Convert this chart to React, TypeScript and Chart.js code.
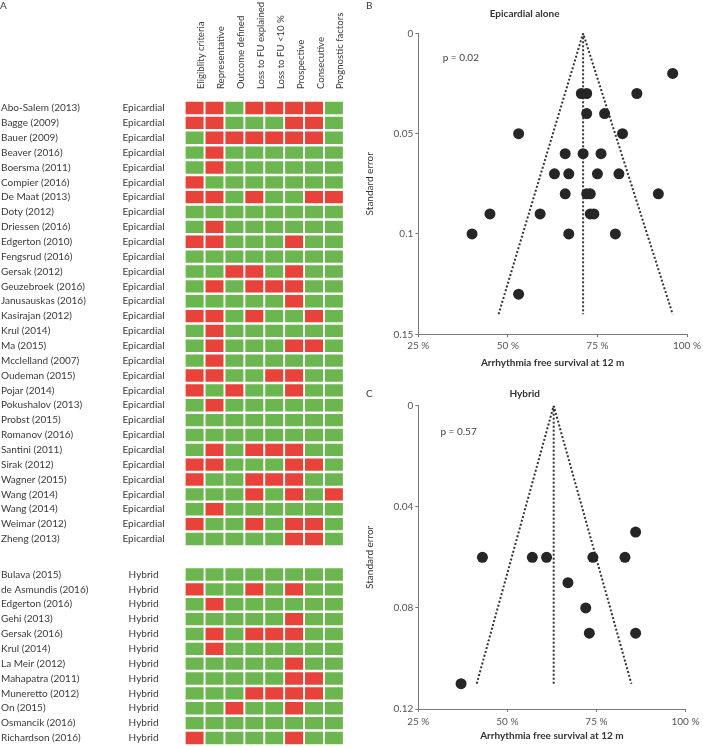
import React, { useEffect, useRef } from "react";
import { Chart, registerables } from "chart.js";

Chart.register(...registerables);

const FONT = "Lato, 'Noto Sans', sans-serif";
const RED = "#E8433A";
const GREEN = "#6CB650";
const TEXT = "#3a3a3a";
const AXIS = "#7a7a7a";
const DOT = "#262626";

// ---- Panel A: risk of bias table ----
const criteria = [
  "Eligiblity criteria",
  "Representative",
  "Outcome defined",
  "Loss to FU explained",
  "Loss to FU <10 %",
  "Prospective",
  "Consecutive",
  "Prognostic factors",
];

const epiStudies = [
  "Abo-Salem (2013)", "Bagge (2009)", "Bauer (2009)", "Beaver (2016)", "Boersma (2011)",
  "Compier (2016)", "De Maat (2013)", "Doty (2012)", "Driessen (2016)", "Edgerton (2010)",
  "Fengsrud (2016)", "Gersak (2012)", "Geuzebroek (2016)", "Janusauskas (2016)", "Kasirajan (2012)",
  "Krul (2014)", "Ma (2015)", "Mcclelland (2007)", "Oudeman (2015)", "Pojar (2014)",
  "Pokushalov (2013)", "Probst (2015)", "Romanov (2016)", "Santini (2011)", "Sirak (2012)",
  "Wagner (2015)", "Wang (2014)", "Wang (2014)", "Weimar (2012)", "Zheng (2013)",
];
// R = high risk (red), G = low risk (green), one letter per criterion
const epiRatings = [
  "RRGRRRRG", "RRGGGRRG", "GRRRRRRG", "GRGGGGGG", "GRGGGGGG",
  "RGGGGGGG", "RRGRGGRR", "GGGGGGGG", "GRGGGGGG", "RRGGGRGG",
  "GGGGGGGG", "GGRRGRGG", "GRGRRRGG", "GGGGGRGG", "RRGRGGRG",
  "GRGGGGGG", "GRGGGRRG", "GRGGGGGG", "RRGGRRGG", "RGRGGRGG",
  "GRGGGGGG", "GGGGGGGG", "GGGGGGGG", "GRGRRRGG", "RRGGGRRG",
  "RGGRRRGG", "GGGRGRGR", "GRGGGGGG", "RGGRGRRG", "GGGGGRRG",
];

const hybStudies = [
  "Bulava (2015)", "de Asmundis (2016)", "Edgerton (2016)", "Gehi (2013)", "Gersak (2016)",
  "Krul (2014)", "La Meir (2012)", "Mahapatra (2011)", "Muneretto (2012)", "On (2015)",
  "Osmancik (2016)", "Richardson (2016)",
];
const hybRatings = [
  "GGGGGGGG", "RGGRGRGG", "GRGGGGGG", "GGGGGRGG", "GRGRRRGG",
  "GRGGGGGG", "GGGGGRGG", "GGGGGRRG", "GGGRRRRG", "GGRGGRGG",
  "GGGGGGGG", "RGGGGRGG",
];

// ---- Panel B: epicardial alone funnel ----
const epiSurvival = [96, 70.5, 72, 86, 72, 77, 53, 82, 66, 71, 76, 63, 67, 75, 81, 66, 72, 73, 92, 45, 59, 73, 74, 40, 67, 80, 53];
const epiSE = [0.02, 0.03, 0.03, 0.03, 0.04, 0.04, 0.05, 0.05, 0.06, 0.06, 0.06, 0.07, 0.07, 0.07, 0.07, 0.08, 0.08, 0.08, 0.08, 0.09, 0.09, 0.09, 0.09, 0.1, 0.1, 0.1, 0.13];
const epiFunnel = { pooled: 71, lower: 47.4, upper: 96, maxSE: 0.14 };

// ---- Panel C: hybrid funnel ----
const hybSurvival = [86, 43, 57, 61, 74, 83, 67, 72, 73, 86, 37];
const hybSE = [0.05, 0.06, 0.06, 0.06, 0.06, 0.06, 0.07, 0.08, 0.09, 0.09, 0.11];
const hybFunnel = { pooled: 63, lower: 41.4, upper: 84.8, maxSE: 0.11 };

const xTicks = [25, 50, 75, 100];

// layout constants
const HYB_GAP = 1.39; // extra blank rows between the two groups

const annotPlugin = {
  id: "annot",
  afterDraw(chart: any, _args: any, opts: any) {
    const ctx = chart.ctx;
    (opts.items || []).forEach((it: any) => {
      ctx.save();
      ctx.font = it.font;
      ctx.fillStyle = it.color;
      ctx.textAlign = it.align || "left";
      ctx.textBaseline = "middle";
      let x = it.x;
      let y = it.y;
      if (it.data) {
        x = chart.scales.x.getPixelForValue(it.x);
        y = chart.scales.y.getPixelForValue(it.y);
      }
      ctx.fillText(it.text, x, y);
      ctx.restore();
    });
  },
};

function GridChart() {
  const ref = useRef<HTMLCanvasElement>(null);
  useEffect(() => {
    const names = [...epiStudies, ...hybStudies];
    const types = [...epiStudies.map(() => "Epicardial"), ...hybStudies.map(() => "Hybrid")];
    const ratings = [...epiRatings, ...hybRatings];
    const pos = [
      ...epiStudies.map((_, i) => i),
      ...hybStudies.map((_, j) => epiStudies.length + HYB_GAP + j),
    ];
    const yMax = pos[pos.length - 1] + 0.5;

    const datasets = criteria.map((c, ci) => ({
      label: c,
      data: pos.map((p) => ({ x: [ci + 0.065, ci + 0.935], y: p })),
      backgroundColor: ratings.map((r) => (r[ci] === "R" ? RED : GREEN)),
      borderWidth: 0,
      barThickness: 11.7,
      grouped: false,
    }));

    const setTicks = (scale: any) => {
      scale.ticks = pos.map((v) => ({ value: v }));
    };
    const fitLeft = (w: number) => (s: any) => {
      s.width = w;
      s.paddingTop = 0;
      s.paddingBottom = 0;
    };

    const chart = new Chart(ref.current!, {
      type: "bar",
      data: { datasets: datasets as any },
      plugins: [annotPlugin],
      options: {
        animation: false,
        responsive: false,
        devicePixelRatio: 1,
        indexAxis: "y",
        layout: { padding: { left: 1, right: 16.15, top: 0, bottom: 1.6 } },
        plugins: {
          legend: { display: false },
          tooltip: { enabled: false },
          annot: {
            items: [{ text: "A", x: 0, y: 6, font: `10px ${FONT}`, color: TEXT }],
          },
        } as any,
        scales: {
          x: { type: "linear", min: 0, max: 8, display: false },
          xTop: {
            type: "category",
            labels: criteria,
            offset: true,
            position: "top",
            grid: { display: false, drawTicks: false },
            border: { display: false },
            ticks: {
              autoSkip: false,
              minRotation: 90,
              maxRotation: 90,
              padding: 11.5,
              labelOffset: 18,
              color: TEXT,
              font: { family: FONT, size: 9.6 },
            },
            afterFit: (s: any) => {
              s.height = 100.6;
              s.paddingLeft = 0;
              s.paddingRight = 0;
            },
          } as any,
          y: {
            type: "linear",
            position: "left",
            weight: 2,
            reverse: true,
            offset: false,
            min: -0.5,
            max: yMax,
            grid: { display: false, drawTicks: false, offset: false },
            border: { display: false },
            afterBuildTicks: setTicks,
            ticks: {
              autoSkip: false,
              crossAlign: "far",
              padding: 0,
              color: TEXT,
              font: { family: FONT, size: 10 },
              callback: (_v: any, i: number) => names[i],
            },
            afterFit: fitLeft(113.65),
          } as any,
          yType: {
            type: "linear",
            position: "left",
            weight: 1,
            reverse: true,
            offset: false,
            min: -0.5,
            max: yMax,
            grid: { display: false, drawTicks: false, offset: false },
            border: { display: false },
            afterBuildTicks: setTicks,
            ticks: {
              autoSkip: false,
              crossAlign: "center",
              padding: 20,
              color: TEXT,
              font: { family: FONT, size: 10 },
              callback: (_v: any, i: number) => types[i],
            },
            afterFit: fitLeft(70),
          } as any,
        },
      },
    });
    return () => chart.destroy();
  }, []);
  return <canvas ref={ref} width={360} height={747} style={{ position: "absolute", left: 0, top: 0 }} />;
}

interface FunnelProps {
  top: number;
  height: number;
  title: string;
  letter: string;
  pText: string;
  pX: number;
  pY: number;
  survival: number[];
  se: number[];
  funnel: { pooled: number; lower: number; upper: number; maxSE: number };
  yMax: number;
  yStep: number;
  titlePad: { top: number; bottom: number };
  letterY: number;
  xTitleBottom: number;
  xTickPad: number;
  xAxisHeight: number;
}

function FunnelChart(p: FunnelProps) {
  const ref = useRef<HTMLCanvasElement>(null);
  useEffect(() => {
    const f = p.funnel;
    const chart = new Chart(ref.current!, {
      type: "scatter",
      data: {
        datasets: [
          {
            label: "studies",
            data: p.survival.map((x, i) => ({ x, y: p.se[i] })),
            pointRadius: 5.5,
            pointBackgroundColor: DOT,
            pointBorderWidth: 0,
          },
          {
            label: "funnel",
            data: [
              { x: f.lower, y: f.maxSE },
              { x: f.pooled, y: 0 },
              { x: f.upper, y: f.maxSE },
            ],
            showLine: true,
            pointRadius: 0,
            borderColor: "#333",
            borderWidth: 2,
            borderDash: [2, 2],
            fill: false,
          },
          {
            label: "pooled",
            data: [
              { x: f.pooled, y: 0 },
              { x: f.pooled, y: f.maxSE },
            ],
            showLine: true,
            pointRadius: 0,
            borderColor: "#333",
            borderWidth: 2,
            borderDash: [2, 2],
            fill: false,
          },
        ] as any,
      },
      plugins: [annotPlugin],
      options: {
        animation: false,
        responsive: false,
        devicePixelRatio: 1,
        layout: { padding: { left: 0, right: 13.7, top: 0, bottom: 0 } },
        plugins: {
          legend: { display: false },
          tooltip: { enabled: false },
          title: {
            display: true,
            text: p.title,
            color: "#333",
            font: { family: FONT, size: 10, weight: "bold" },
            padding: p.titlePad,
          },
          annot: {
            items: [
              { text: p.letter, x: 6, y: p.letterY, font: `10px ${FONT}`, color: TEXT },
              { text: p.pText, x: p.pX, y: p.pY, data: true, font: `10px ${FONT}`, color: "#444" },
            ],
          },
        } as any,
        scales: {
          x: {
            type: "linear",
            min: 25,
            max: 100,
            afterBuildTicks: (s: any) => {
              s.ticks = xTicks.map((v) => ({ value: v }));
            },
            grid: { drawOnChartArea: false, drawTicks: true, tickLength: 3, color: AXIS },
            border: { display: true, color: AXIS, width: 1 },
            ticks: {
              padding: p.xTickPad,
              color: "#555",
              font: { family: FONT, size: 10 },
              callback: (v: any) => `${v} %`,
            },
            title: {
              display: true,
              text: "Arrhythmia free survival at 12 m",
              color: "#333",
              font: { family: FONT, size: 10, weight: "bold" },
              padding: { top: 4, bottom: p.xTitleBottom },
            },
            afterFit: (s: any) => {
              s.height = p.xAxisHeight;
            },
          } as any,
          y: {
            type: "linear",
            reverse: true,
            min: 0,
            max: p.yMax,
            ticks: {
              stepSize: p.yStep,
              padding: 2,
              color: "#555",
              font: { family: FONT, size: 10 },
              callback: (v: any) => String(+Number(v).toFixed(2)),
            },
            grid: { drawOnChartArea: false, drawTicks: true, tickLength: 3, color: AXIS },
            border: { display: true, color: AXIS, width: 1 },
            title: {
              display: true,
              text: "Standard error",
              color: "#333",
              font: { family: FONT, size: 10 },
              padding: { top: 4, bottom: 0 },
            },
            afterFit: (s: any) => {
              s.width = 58.3;
            },
          } as any,
        },
      },
    });
    return () => chart.destroy();
  }, []);
  return (
    <canvas
      ref={ref}
      width={343}
      height={p.height}
      style={{ position: "absolute", left: 360, top: p.top }}
    />
  );
}

export default function App() {
  return (
    <div style={{ position: "absolute", left: 0, top: 0, width: 703, height: 747, background: "#fff" }}>
      <GridChart />
      <FunnelChart
        top={0}
        height={372}
        title="Epicardial alone"
        letter="B"
        pText="p = 0.02"
        pX={31.8}
        pY={0.012}
        survival={epiSurvival}
        se={epiSE}
        funnel={epiFunnel}
        yMax={0.15}
        yStep={0.05}
        titlePad={{ top: 8, bottom: 13.3 }}
        letterY={6}
        xTitleBottom={3}
        xTickPad={2}
        xAxisHeight={37.7}
      />
      <FunnelChart
        top={372}
        height={375}
        title="Hybrid"
        letter="C"
        pText="p = 0.57"
        pX={31.2}
        pY={0.0105}
        survival={hybSurvival}
        se={hybSE}
        funnel={hybFunnel}
        yMax={0.12}
        yStep={0.04}
        titlePad={{ top: 16, bottom: 5.7 }}
        letterY={22}
        xTitleBottom={5}
        xTickPad={3.5}
        xAxisHeight={38}
      />
    </div>
  );
}
